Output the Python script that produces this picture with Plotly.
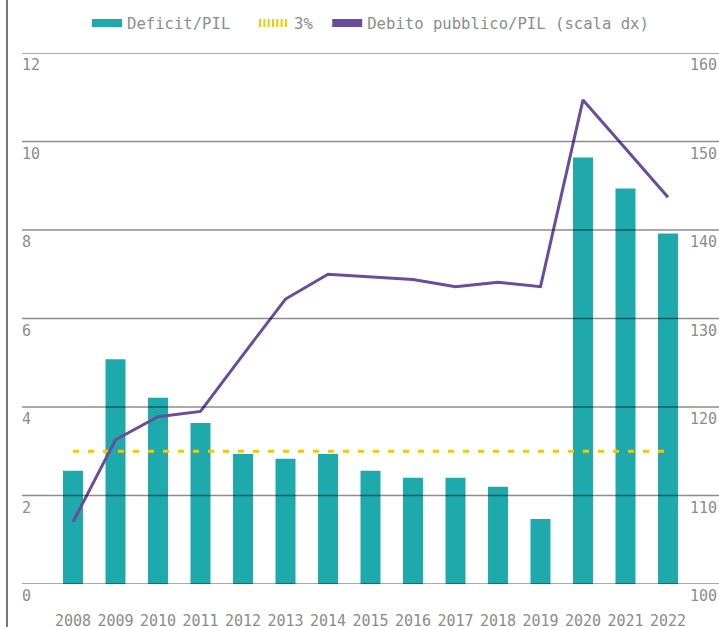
import plotly.graph_objects as go

years = [str(y) for y in range(2008, 2023)]
deficit = [2.56, 5.08, 4.21, 3.64, 2.94, 2.83, 2.94, 2.56, 2.40, 2.40, 2.20, 1.47, 9.64, 8.94, 7.92]
debito = [107.0, 116.3, 118.9, 119.5, 125.9, 132.2, 135.0, 134.7, 134.4, 133.6, 134.1, 133.6, 154.7, 149.2, 143.7]
soglia = [3] * len(years)
left_ticks = [0, 2, 4, 6, 8, 10, 12]
right_ticks = [100, 110, 120, 130, 140, 150, 160]

TEAL = "#1eaaac"
PURPLE = "#6a4c9c"
GOLD = "#f5c800"
GREY = "#8c8c8c"
FONT = "DejaVu Sans Mono"
NB = "\u00a0"

fig = go.Figure()
fig.add_trace(go.Bar(x=years, y=deficit, name="Deficit/PIL", marker_color=TEAL,
                     marker_line_width=0, yaxis="y", showlegend=False))
fig.add_trace(go.Scatter(x=years, y=soglia, name="3%", mode="lines",
                         line=dict(color=GOLD, width=3, dash="6px,9px"), yaxis="y",
                         showlegend=False))
fig.add_trace(go.Scatter(x=years, y=debito, name="Debito pubblico/PIL (scala dx)",
                         mode="lines", line=dict(color=PURPLE, width=3),
                         yaxis="y2", showlegend=False))
# legend swatches (wide boxes / striped swatch as in the original)
fig.add_trace(go.Scatter(x=[None], y=[None], name="Deficit/PIL" + NB * 2, mode="lines",
                         line=dict(color=TEAL, width=8)))
fig.add_trace(go.Scatter(x=[None], y=[None], name="3%" + NB, mode="lines",
                         line=dict(color=GOLD, width=8, dash="2px,2.3px")))
fig.add_trace(go.Scatter(x=[None], y=[None], name="Debito pubblico/PIL (scala dx)",
                         mode="lines", line=dict(color=PURPLE, width=8)))

for v in left_ticks:
    fig.add_shape(type="line", xref="paper", x0=0, x1=1, yref="y", y0=v, y1=v,
                  line=dict(color="rgba(0,0,0,0.45)", width=1.3), layer="above")
    fig.add_annotation(text=str(v), xref="paper", x=0, xanchor="left", yref="y", y=v,
                       yanchor="top", yshift=-1, xshift=-2, showarrow=False,
                       font=dict(family=FONT, size=15, color=GREY))
for v in right_ticks:
    fig.add_annotation(text=str(v), xref="paper", x=1, xanchor="right", yref="y2", y=v,
                       yanchor="top", yshift=-1, xshift=0, showarrow=False,
                       font=dict(family=FONT, size=15, color=GREY))

fig.add_shape(type="line", xref="paper", x0=-0.0215, x1=-0.0215, yref="paper",
              y0=-0.1, y1=1.2, line=dict(color="#777777", width=2))

fig.update_layout(
    width=719, height=627,
    margin=dict(l=22, r=0, t=53, b=43, autoexpand=False),
    paper_bgcolor="white", plot_bgcolor="white",
    font=dict(family=FONT, size=15, color=GREY),
    barmode="overlay",
    bargap=0.53,
    showlegend=True,
    legend=dict(orientation="h", x=0.5, xanchor="center", y=1.056, yanchor="middle",
                font=dict(family=FONT, size=15.6, color=GREY), traceorder="normal"),
    xaxis=dict(type="category", range=[-1.2, 15.2], showgrid=False, zeroline=False,
               showline=False, ticks="outside", ticklen=23, tickcolor="rgba(0,0,0,0)",
               automargin=False,
               tickfont=dict(family=FONT, size=15, color=GREY)),
    yaxis=dict(range=[0, 12], tickvals=left_ticks, showgrid=False, zeroline=False,
               showline=False, ticks="", showticklabels=False, automargin=False),
    yaxis2=dict(range=[100, 160], tickvals=right_ticks, overlaying="y", side="right",
                showgrid=False, zeroline=False, showline=False, ticks="",
                showticklabels=False, automargin=False),
)

fig.write_html("out.html", config={"displayModeBar": False},
               post_script="document.body.style.margin='0';document.body.style.overflow='hidden';")
